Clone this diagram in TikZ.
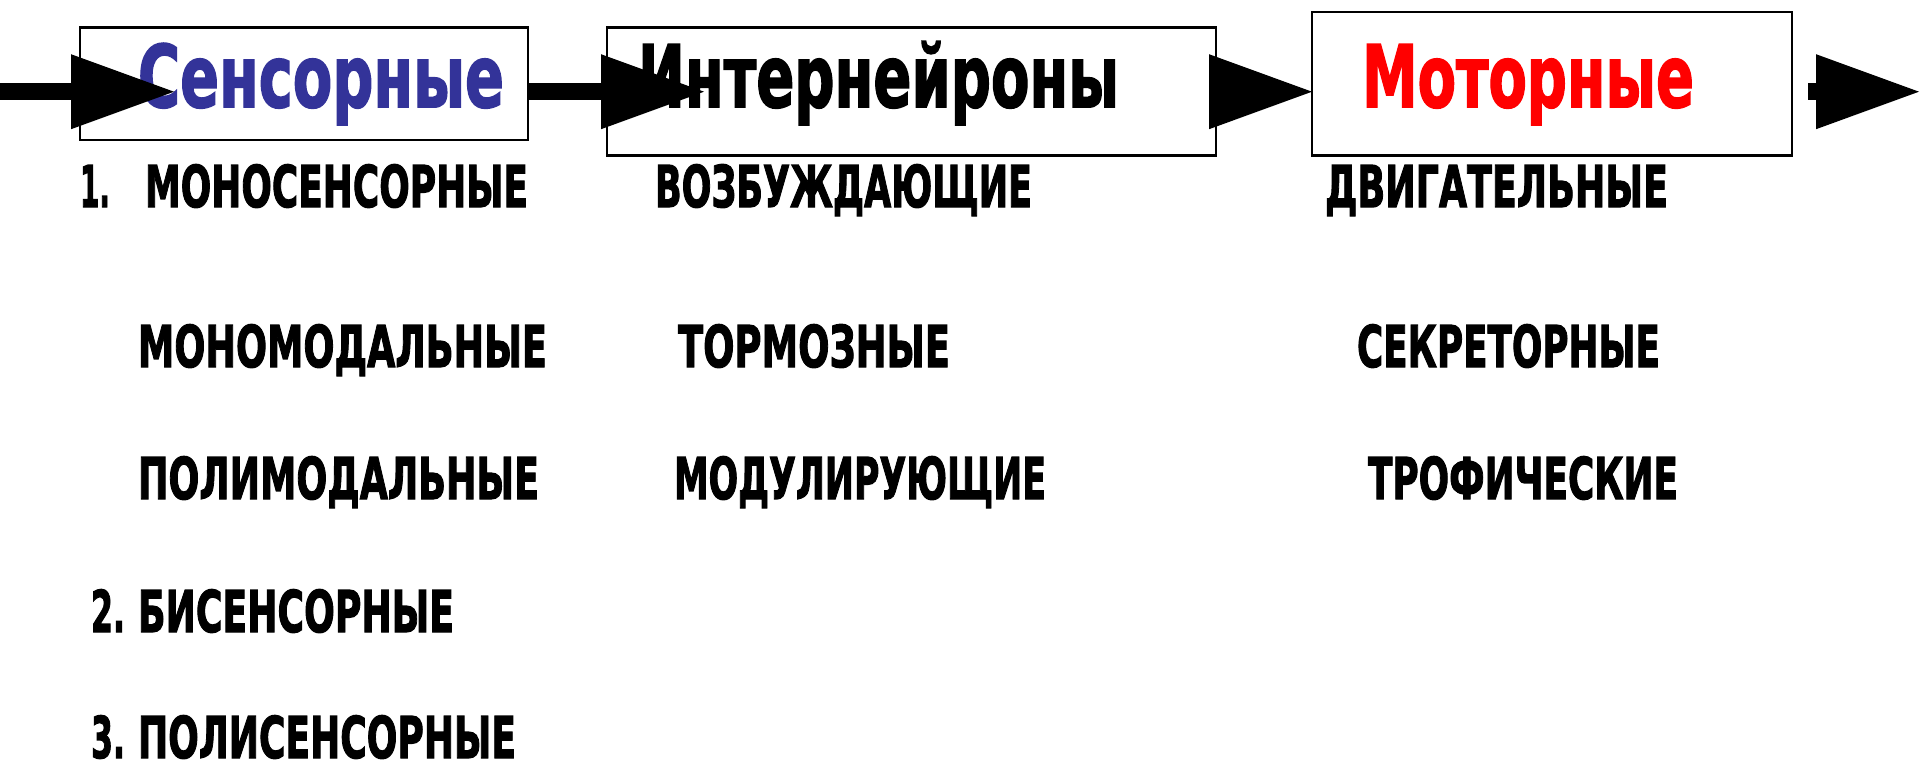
\documentclass[tikz,border=0pt]{standalone}
\usepackage{fontspec}
\setmainfont{DejaVu Sans}
\newfontfamily\heavy{DejaVu Sans}[BoldFeatures={FakeBold=2.2}]
\usepackage{graphicx}

% set a piece of text to a given width (in drawing units) by horizontal scaling
\newsavebox\fitbox
\newcommand\fitw[2]{\sbox\fitbox{#2}\pgfmathsetmacro\fitratio{0.5*#1/\the\wd\fitbox}\scalebox{\fitratio}[1]{\usebox\fitbox}}

\definecolor{sensblue}{RGB}{51,51,153}
\definecolor{motred}{RGB}{255,0,0}

\newcommand\listfont{\heavy\bfseries\fontsize{28.8pt}{30pt}\selectfont}
\newcommand\headfont{\heavy\bfseries\fontsize{43pt}{45pt}\selectfont}

\tikzset{
  box/.style={draw, line width=1.1pt, fill=white, inner sep=0pt, outer sep=0pt, anchor=north west},
  lbl/.style={anchor=base west, inner sep=0pt, outer sep=0pt, font=\listfont, text=black},
  head/.style={anchor=base west, inner sep=0pt, outer sep=0pt, font=\headfont},
  shaft/.style={line width=8.35pt, shorten >=20pt},
}
% filled triangular arrowhead ending at the given point
\newcommand\headtip[1]{\fill (#1) -- ++(-103,37.5) -- ++(0,-75) -- cycle;}

\begin{document}
\begin{tikzpicture}[x=0.5pt, y=-0.5pt]
\useasboundingbox (0,0) rectangle (1920,767);

% the three neuron groups
\node[box, minimum width=224.2pt, minimum height=56.25pt] (sens) at (79.6,27.5) {};
\node[box, minimum width=304.5pt, minimum height=64pt] (inter) at (607,27.5) {};
\node[box, minimum width=240pt, minimum height=71.75pt] (motor) at (1312,12) {};

\node[head, text=sensblue] (sensT) at (138,107) {\fitw{366}{Сенсорные}};
\node[head, text=black] (interT) at (638,107) {\fitw{481}{Интернейроны}};
\node[head, text=motred] (motorT) at (1362,107) {\fitw{332}{Моторные}};

% sensory neurons
\node[lbl] (s1) at (80,207) {\fitw{30}{1.}\hspace{17.5pt}\fitw{383}{МОНОСЕНСОРНЫЕ}};
\node[lbl] (s1a) at (138,367) {\fitw{409}{МОНОМОДАЛЬНЫЕ}};
\node[lbl] (s1b) at (138,499) {\fitw{401}{ПОЛИМОДАЛЬНЫЕ}};
\node[lbl] (s2) at (91,632) {\fitw{34}{2.}\hspace{6.5pt}\fitw{316}{БИСЕНСОРНЫЕ}};
\node[lbl] (s3) at (91,758) {\fitw{34}{3.}\hspace{6.5pt}\fitw{378}{ПОЛИСЕНСОРНЫЕ}};

% interneurons
\node[lbl] (i1) at (655,207) {\fitw{377}{ВОЗБУЖДАЮЩИЕ}};
\node[lbl] (i2) at (678,367) {\fitw{272}{ТОРМОЗНЫЕ}};
\node[lbl] (i3) at (674,499) {\fitw{372}{МОДУЛИРУЮЩИЕ}};

% motor neurons
\node[lbl] (m1) at (1325,207) {\fitw{343}{ДВИГАТЕЛЬНЫЕ}};
\node[lbl] (m2) at (1357,367) {\fitw{303}{СЕКРЕТОРНЫЕ}};
\node[lbl] (m3) at (1368,499) {\fitw{310}{ТРОФИЧЕСКИЕ}};

% signal flow
\coordinate (src) at (0,91.7);
\coordinate (tip1) at (174,91.7);
\coordinate (tip2) at (704,91.7);
\coordinate (tip3) at (motor.west |- src);
\coordinate (out) at (1808,91.7);
\coordinate (tip4) at (1919,91.7);

\draw[shaft] (src) -- (tip1);
\draw[shaft] (sens.east |- src) -- (tip2);
\draw[shaft] (inter.east |- src) -- (tip3);
\draw[shaft] (out) -- (tip4);
\headtip{tip1}
\headtip{tip2}
\headtip{tip3}
\headtip{tip4}
\end{tikzpicture}
\end{document}
